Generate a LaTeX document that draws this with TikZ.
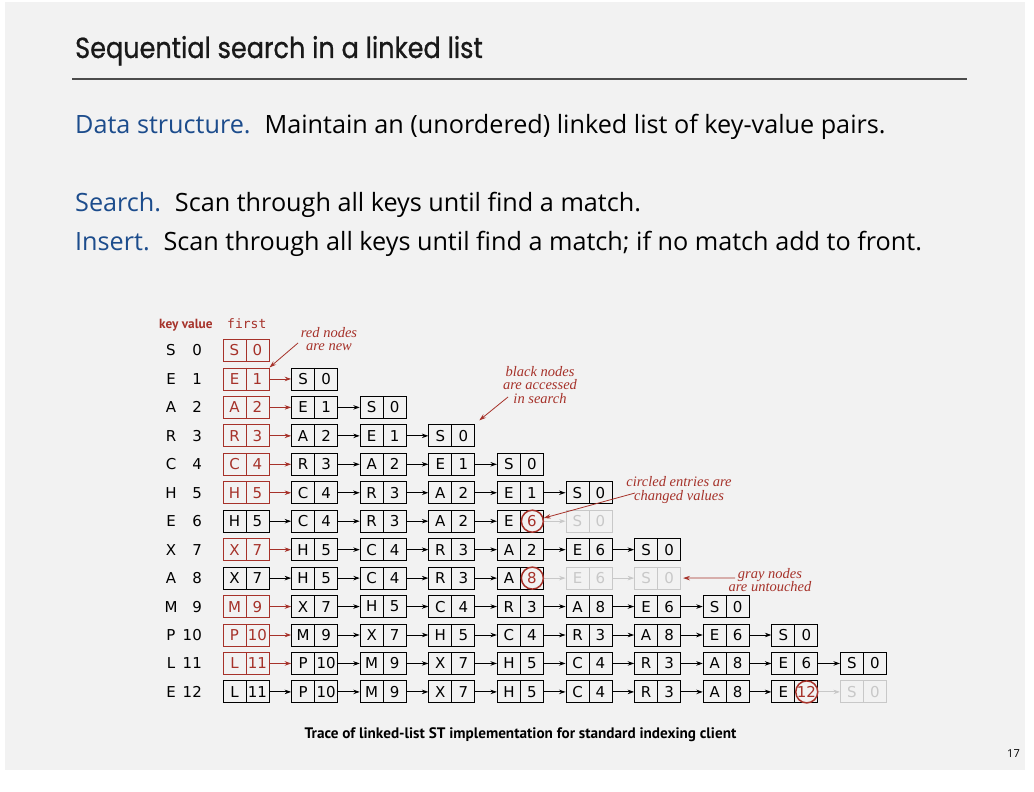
\documentclass[tikz,border=0pt]{standalone}
\usepackage{fontspec}
\usetikzlibrary{arrows.meta}
\setmainfont{Open Sans}
\newfontfamily\titlefont[FakeBold=0.8,FakeStretch=0.88]{Poppins}
\newfontfamily\cellfont{DejaVu Sans}
\newfontfamily\codefont{DejaVu Sans Mono}
\newfontfamily\capfont{PT Sans}
\newfontfamily\notefont{Liberation Serif}
\definecolor{slidebg}{RGB}{242,242,242}
\definecolor{hired}{RGB}{166,50,42}
\definecolor{ghost}{RGB}{200,200,200}
\definecolor{headblue}{RGB}{28,76,140}
\newcommand{\kvpair}[2]{\makebox[23pt]{#1}\makebox[23pt]{#2}}
\begin{document}
\begin{tikzpicture}[x=1pt,y=-1pt,
  entry/.style={draw=#1,text=#1,line width=0.9pt,minimum width=46pt,minimum height=22pt,inner sep=0pt,
    font=\cellfont\fontsize{15}{15}\selectfont,
    path picture={\draw[#1,line width=0.9pt] (path picture bounding box.north) -- (path picture bounding box.south);}},
  entry/.default=black,
  link/.style={draw=#1,line width=0.9pt,-{Stealth[length=6.5pt,width=4.5pt]}},
  ring/.style={circle,draw=hired,line width=1.5pt,minimum size=22pt,inner sep=0pt},
  note/.style={draw=hired,line width=0.8pt,-{Stealth[length=7pt,width=4.5pt]}},
  notetext/.style={text=hired,align=center,inner sep=0pt,font=\notefont\itshape\fontsize{14.5}{13.5}\selectfont},
  keytext/.style={inner sep=0pt,font=\cellfont\fontsize{15}{15}\selectfont},
  line/.style={anchor=base west,inner sep=0pt,font=\fontsize{25.2}{25.2}\selectfont}]
\useasboundingbox (0,0) rectangle (1034,792);
% slide
\fill[white] (0,0) rectangle (1034,792);
\fill[slidebg] (5,2) rectangle (1025,770);
\node[anchor=base west,inner sep=0pt,font=\titlefont\fontsize{29}{29}\selectfont,text=black!90] (title) at (75,58) {Sequential search in a linked list};
\draw[line width=1.3pt,black!70] (72,79) -- (967,79);
\node[line] (ds) at (75,133) {\textcolor{headblue}{Data structure.}\hspace{0.55em}Maintain an (unordered) linked list of key-value pairs.};
\node[line] (search) at (75,211) {\textcolor{headblue}{Search.}\hspace{0.55em}Scan through all keys until find a match.};
\node[line] (insert) at (75,250) {\textcolor{headblue}{Insert.}\hspace{0.55em}Scan through all keys until find a match; if no match add to front.};
% trace header
\node[anchor=base west,inner sep=0pt,text=hired,font=\capfont\bfseries\fontsize{13.3}{13.3}\selectfont] (hdrkv) at (159,328) {key value};
\node[anchor=base west,inner sep=0pt,text=hired,font=\codefont\fontsize{13}{13}\selectfont] (hdrfirst) at (227,328) {first};
% keys and values
\foreach \key/\val [count=\row from 0] in {S/0,E/1,A/2,R/3,C/4,H/5,E/6,X/7,A/8,M/9,P/10,L/11,E/12}{
  \node[keytext] (k\row) at (171,350.5+28.45*\row) {\key};
  \node[keytext,anchor=east] (v\row) at (202,350.5+28.45*\row) {\val};
}
% lists
\node[entry=hired] (n0-0) at (246,350.5) {\kvpair{S}{0}};
\foreach \row/\key/\val/\hue/\rest in {
  1/E/1/hired/{S/0/black},
  2/A/2/hired/{E/1/black,S/0/black},
  3/R/3/hired/{A/2/black,E/1/black,S/0/black},
  4/C/4/hired/{R/3/black,A/2/black,E/1/black,S/0/black},
  5/H/5/hired/{C/4/black,R/3/black,A/2/black,E/1/black,S/0/black},
  6/H/5/black/{C/4/black,R/3/black,A/2/black,E/{\textcolor{hired}{6}}/black,S/0/ghost},
  7/X/7/hired/{H/5/black,C/4/black,R/3/black,A/2/black,E/6/black,S/0/black},
  8/X/7/black/{H/5/black,C/4/black,R/3/black,A/{\textcolor{hired}{8}}/black,E/6/ghost,S/0/ghost},
  9/M/9/hired/{X/7/black,H/5/black,C/4/black,R/3/black,A/8/black,E/6/black,S/0/black},
  10/P/10/hired/{M/9/black,X/7/black,H/5/black,C/4/black,R/3/black,A/8/black,E/6/black,S/0/black},
  11/L/11/hired/{P/10/black,M/9/black,X/7/black,H/5/black,C/4/black,R/3/black,A/8/black,E/6/black,S/0/black},
  12/L/11/black/{P/10/black,M/9/black,X/7/black,H/5/black,C/4/black,R/3/black,A/8/black,E/{\textcolor{hired}{12}}/black,S/0/ghost}}{
  \node[entry=\hue] (n\row-0) at (246,350.5+28.45*\row) {\kvpair{\key}{\val}};
  \foreach \nk/\nv/\nh [count=\pos] in \rest {
    \pgfmathtruncatemacro{\prev}{\pos-1}
    \ifnum\pos=1 \let\ahue\hue \else \let\ahue\nh \fi
    \node[entry=\nh] (n\row-\pos) at (246+68.6*\pos,350.5+28.45*\row) {\kvpair{\nk}{\nv}};
    \draw[link=\ahue] (n\row-\prev) -- (n\row-\pos);
  }
}
% changed values
\node[ring] (ring6) at ([xshift=-11.5pt]n6-4.east) {};
\node[ring] (ring8) at ([xshift=-11.5pt]n8-4.east) {};
\node[ring] (ring12) at ([xshift=-11.5pt]n12-8.east) {};
% notes
\node[notetext] (newnote) at (329,339) {red nodes\\are new};
\coordinate (newtail) at (298,343);
\draw[note] (newtail) -- (n1-0.north east);
\node[notetext] (accnote) at (540,385) {black nodes\\are accessed\\in search};
\coordinate (acctail) at (508,397);
\draw[note] (acctail) -- ([xshift=4pt,yshift=4pt]n3-3.north east);
\node[notetext] (ringnote) at (679,490) {circled entries are\\changed values};
\coordinate (ringtail) at (635,493);
\draw[note] (ringtail) -- (ring6);
\node[notetext] (graynote) at (770,580) {gray nodes\\are untouched};
\coordinate (graytail) at (735,578);
\draw[note] (graytail) -- ([xshift=2pt]n8-6.east);
% caption
\node[anchor=base,inner sep=0pt,font=\capfont\bfseries\fontsize{15.2}{15.2}\selectfont] (caption) at (520.5,738) {Trace of linked-list ST implementation for standard indexing client};
\node[anchor=base east,inner sep=0pt,font=\fontsize{11}{11}\selectfont] (pageno) at (1020,757) {17};
\end{tikzpicture}
\end{document}
